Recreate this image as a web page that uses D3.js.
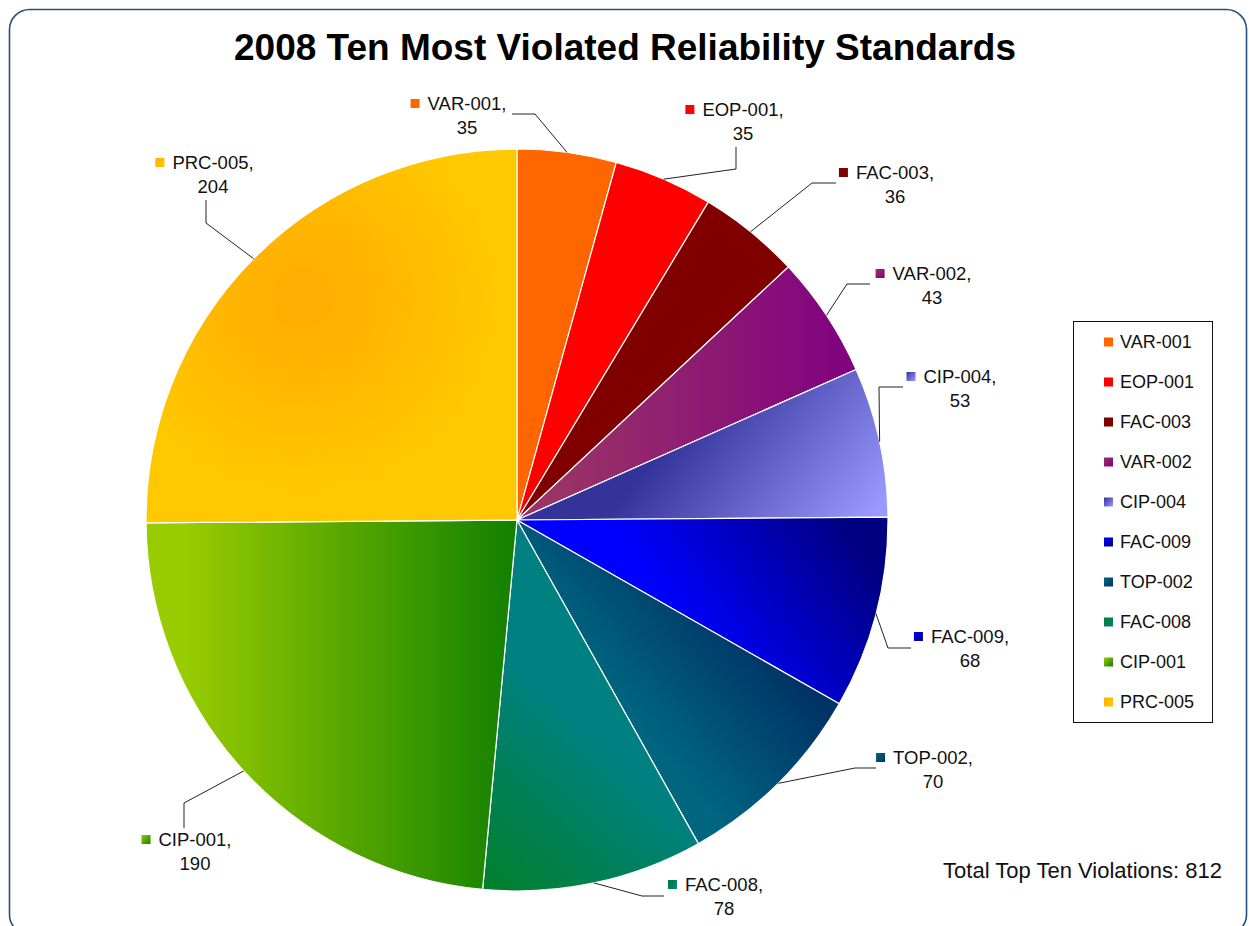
<!DOCTYPE html>
<html><head><meta charset="utf-8">
<script src="https://cdn.jsdelivr.net/npm/d3@7"></script>
<style>body{margin:0;background:#fff}svg{display:block}</style>
</head><body>
<svg id="chart" width="1249" height="926"></svg>
<script>
const categories = ["VAR-001","EOP-001","FAC-003","VAR-002","CIP-004","FAC-009","TOP-002","FAC-008","CIP-001","PRC-005"];
const values = [35,35,36,43,53,68,70,78,190,204];
const title = "2008 Ten Most Violated Reliability Standards";
const totalLabel = "Total Top Ten Violations: " + d3.sum(values);

// colour stops per slice [start, end]
const colorStops = [
  ["#FF6600","#FF6600"],
  ["#FF0000","#FF0000"],
  ["#800000","#800000"],
  ["#993366","#800080"],
  ["#333399","#9999FF"],
  ["#0000FF","#000080"],
  ["#006680","#003366"],
  ["#00802F","#008080"],
  ["#99CC00","#118000"],
  ["#FFAE00","#FFC800"]
];
// gradient directions in radius units relative to the pie centre
const gradDirs = [
  [0,0,1,0],[0,0,1,0],[0,0,1,0],
  [0.12,-0.3,0.92,-0.3],
  [0.52,-0.35,0.95,0.0],
  [0.49,0.35,0.92,0.05],
  [0.44,0.70,0.76,0.43],
  [-0.1,0.95,0.22,0.6],
  [-0.9,0,0,0],
  null
];
// label layout: text centre x, first line y, leader elbow and end (page px)
const labelLayout = [
  {tx:467, ty:104, ex:535, ey:114, lx:512, ly:114},
  {tx:743, ty:110, ex:736, ey:169, lx:736, ly:147},
  {tx:895, ty:173, ex:812, ey:183, lx:836, ly:183},
  {tx:932, ty:274, ex:847, ey:284, lx:870, ly:284},
  {tx:960, ty:377, ex:879, ey:387, lx:903, ly:387},
  {tx:970, ty:637, ex:888, ey:648, lx:911, ly:648},
  {tx:933, ty:758, ex:855, ey:768, lx:876, ly:768},
  {tx:724, ty:885, ex:642, ey:896, lx:664, ly:896},
  {tx:195, ty:840, ex:184, ey:803, lx:184, ly:828},
  {tx:213, ty:163, ex:206, ey:223, lx:206, ly:200}
];

const svg = d3.select("#chart");
const font = "'Liberation Sans', Arial, sans-serif";
const cx = 517, cy = 520, R = 371;

// outer border
svg.append("rect").attr("x",9.5).attr("y",9.5).attr("width",1237).attr("height",925)
  .attr("rx",20).attr("fill","#fff").attr("stroke","#24507e").attr("stroke-width",1.6);

const defs = svg.append("defs");
categories.forEach((c,i)=>{
  const cs = colorStops[i];
  if (gradDirs[i]) {
    const d = gradDirs[i];
    const g = defs.append("linearGradient").attr("id","g"+i).attr("gradientUnits","userSpaceOnUse")
      .attr("x1",d[0]*R).attr("y1",d[1]*R).attr("x2",d[2]*R).attr("y2",d[3]*R);
    g.append("stop").attr("offset",0).attr("stop-color",cs[0]);
    g.append("stop").attr("offset",1).attr("stop-color",cs[1]);
  } else {
    const g = defs.append("radialGradient").attr("id","g"+i).attr("gradientUnits","userSpaceOnUse")
      .attr("cx",-0.58*R).attr("cy",-0.6*R).attr("r",0.52*R);
    g.append("stop").attr("offset",0).attr("stop-color",cs[0]);
    g.append("stop").attr("offset",0.12).attr("stop-color",cs[0]);
    g.append("stop").attr("offset",1).attr("stop-color",cs[1]);
  }
  // small marker gradients
  const m = defs.append("linearGradient").attr("id","m"+i).attr("x1",0).attr("y1",0).attr("x2",1).attr("y2",1);
  m.append("stop").attr("offset",0).attr("stop-color",cs[0]);
  m.append("stop").attr("offset",1).attr("stop-color",cs[1]);
});

// title
svg.append("text").attr("x",625).attr("y",60).attr("text-anchor","middle")
  .attr("font-family",font).attr("font-weight","bold").attr("font-size",37).text(title);

const pie = d3.pie().sort(null).value(d=>d)(values);
const arc = d3.arc().innerRadius(0).outerRadius(R);
const g = svg.append("g").attr("transform",`translate(${cx},${cy})`);
g.selectAll("path").data(pie).join("path")
  .attr("d",arc).attr("fill",(d,i)=>`url(#g${i})`)
  .attr("stroke","#fff").attr("stroke-width",1.2).attr("stroke-linejoin","round");

// leader lines
pie.forEach((d,i)=>{
  const a = (d.startAngle+d.endAngle)/2;
  const px = cx + R*Math.sin(a), py = cy - R*Math.cos(a);
  const L = labelLayout[i];
  svg.append("polyline").attr("points",`${px},${py} ${L.ex},${L.ey} ${L.lx},${L.ly}`)
    .attr("fill","none").attr("stroke","#222").attr("stroke-width",1);
});

// data labels
pie.forEach((d,i)=>{
  const L = labelLayout[i];
  const t1 = svg.append("text").attr("x",L.tx).attr("y",L.ty+6).attr("text-anchor","middle")
    .attr("font-family",font).attr("font-size",18.5).attr("fill","#111").text(categories[i]+",");
  const w = t1.node().getComputedTextLength();
  svg.append("rect").attr("x",L.tx-w/2-17).attr("y",L.ty-5).attr("width",9).attr("height",9)
    .attr("fill",`url(#m${i})`);
  svg.append("text").attr("x",L.tx).attr("y",L.ty+30).attr("text-anchor","middle")
    .attr("font-family",font).attr("font-size",18.5).attr("fill","#111").text(values[i]);
});

// legend
const lg = svg.append("g");
lg.append("rect").attr("x",1073.5).attr("y",321.5).attr("width",139).attr("height",401)
  .attr("fill","#fff").attr("stroke","#111").attr("stroke-width",1);
categories.forEach((c,i)=>{
  const y = 342 + i*40;
  lg.append("rect").attr("x",1104).attr("y",y-4.5).attr("width",9).attr("height",9).attr("fill",`url(#m${i})`);
  lg.append("text").attr("x",1120).attr("y",y+6).attr("font-family",font).attr("font-size",18)
    .attr("fill","#111").text(c);
});

// total
svg.append("text").attr("x",1222).attr("y",878).attr("text-anchor","end")
  .attr("font-family",font).attr("font-size",22).attr("fill","#111").text(totalLabel);
</script>
</body></html>
